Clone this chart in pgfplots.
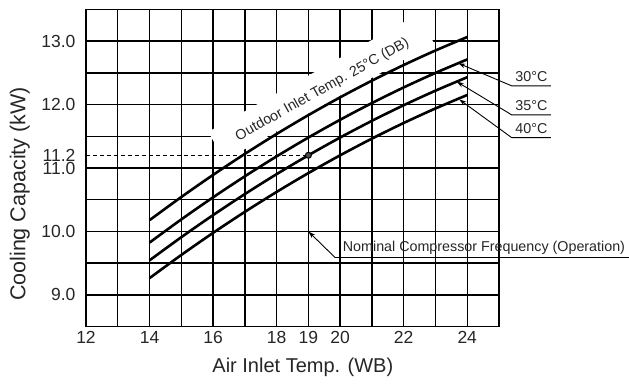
\documentclass[border=0pt]{standalone}
\usepackage{fontspec}
\setmainfont{Liberation Sans}
\usepackage{pgfplots}
\pgfplotsset{compat=1.18}
\usetikzlibrary{arrows.meta}

\pgfplotstableread{
x   c25     c30     c35     c40
14  10.178  9.825   9.545   9.265
15  10.543  10.190  9.910   9.630
16  10.891  10.538  10.258  9.978
17  11.222  10.869  10.589  10.309
18  11.536  11.183  10.903  10.623
19  11.833  11.480  11.200  10.920
20  12.113  11.760  11.480  11.200
21  12.376  12.023  11.743  11.463
22  12.622  12.269  11.989  11.709
23  12.851  12.498  12.218  11.938
24  13.063  12.710  12.430  12.150
}\capdata

\begin{document}
\begin{tikzpicture}
\begin{axis}[
  name=ax,
  scale only axis, width=413pt, height=317.4pt,
  xmin=12, xmax=25, ymin=8.5, ymax=13.5,
  clip=false,
  xtick={12,13,...,25},
  xticklabels={12,,14,,16,,18,,20,,22,,24,},
  ytick={8.5,9,...,13.5},
  yticklabels={,9.0,,10.0,,11.0,,12.0,,13.0,},
  extra x ticks={19},
  extra x tick labels={19},
  extra y ticks={11.2},
  extra y tick labels={11.2},
  extra tick style={grid=none},
  grid=major,
  major grid style={black, line width=1.45pt},
  major tick length=0pt,
  axis line style={black, line width=1.5pt},
  tick label style={font=\fontsize{17.5}{17.5}\selectfont, text=black!85},
  yticklabel style={xshift=-7pt},
  xticklabel style={yshift=-1pt},
  xlabel={Air Inlet Temp. (WB)},
  ylabel={Cooling Capacity (kW)},
  xlabel style={font=\fontsize{20}{20}\selectfont, text=black!85, at={(axis description cs:0.525,-0.129)}, anchor=center},
  ylabel style={font=\fontsize{21.5}{22}\selectfont, text=black!85, at={(axis description cs:-0.16,0.418)}, anchor=center},
]
\node[rotate=29.3, anchor=base, fill=white, inner xsep=22pt, inner ysep=0pt,
      text height=23pt, text depth=10pt,
      font=\fontsize{14.3}{15}\selectfont, text=black!85]
  at (axis cs:19.50,12.18) {Outdoor Inlet Temp. 25°C (DB)};

\addplot[black, line width=0.9pt, dash pattern=on 4pt off 3pt] coordinates {(12,11.2) (19,11.2) (19,8.5)};

\addplot[black, line width=2.6pt, smooth] table[x=x, y=c25] {\capdata};
\addplot[black, line width=2.6pt, smooth] table[x=x, y=c30] {\capdata};
\addplot[black, line width=2.6pt, smooth] table[x=x, y=c35] {\capdata};
\addplot[black, line width=2.6pt, smooth] table[x=x, y=c40] {\capdata};

\addplot[only marks, mark=*, mark size=3pt, black, mark options={fill=black!70, line width=1pt}] coordinates {(19,11.2)};

% leaders
\draw[black, line width=0.9pt, {Stealth[length=7pt, width=4.5pt]}-]
  (axis cs:23.72,12.65) -- (axis cs:25.40,12.294) -- (axis cs:26.63,12.294);
\draw[black, line width=0.9pt, {Stealth[length=7pt, width=4.5pt]}-]
  (axis cs:23.67,12.36) -- (axis cs:25.40,11.837) -- (axis cs:26.63,11.837);
\draw[black, line width=0.9pt, {Stealth[length=7pt, width=4.5pt]}-]
  (axis cs:23.75,12.08) -- (axis cs:25.40,11.478) -- (axis cs:26.63,11.478);
\node[anchor=base, font=\fontsize{14.3}{15}\selectfont, text=black!85] at (axis cs:26.02,12.362) {30°C};
\node[anchor=base, font=\fontsize{14.3}{15}\selectfont, text=black!85] at (axis cs:26.02,11.900) {35°C};
\node[anchor=base, font=\fontsize{14.3}{15}\selectfont, text=black!85] at (axis cs:26.02,11.537) {40°C};

\draw[black, line width=0.9pt, {Stealth[length=7pt, width=4.5pt]}-]
  (axis cs:19,10.0) -- (axis cs:19.84,9.590) -- (axis cs:29.09,9.590);
\node[anchor=base west, inner sep=0pt, font=\fontsize{14.3}{15}\selectfont, text=black!85]
  at (axis cs:20.08,9.679) {Nominal Compressor Frequency (Operation)};
\end{axis}
\pgfresetboundingbox
\path (ax.south west) ++(-86pt,-58.3pt) rectangle ++(629pt,385pt);
\end{tikzpicture}
\end{document}
